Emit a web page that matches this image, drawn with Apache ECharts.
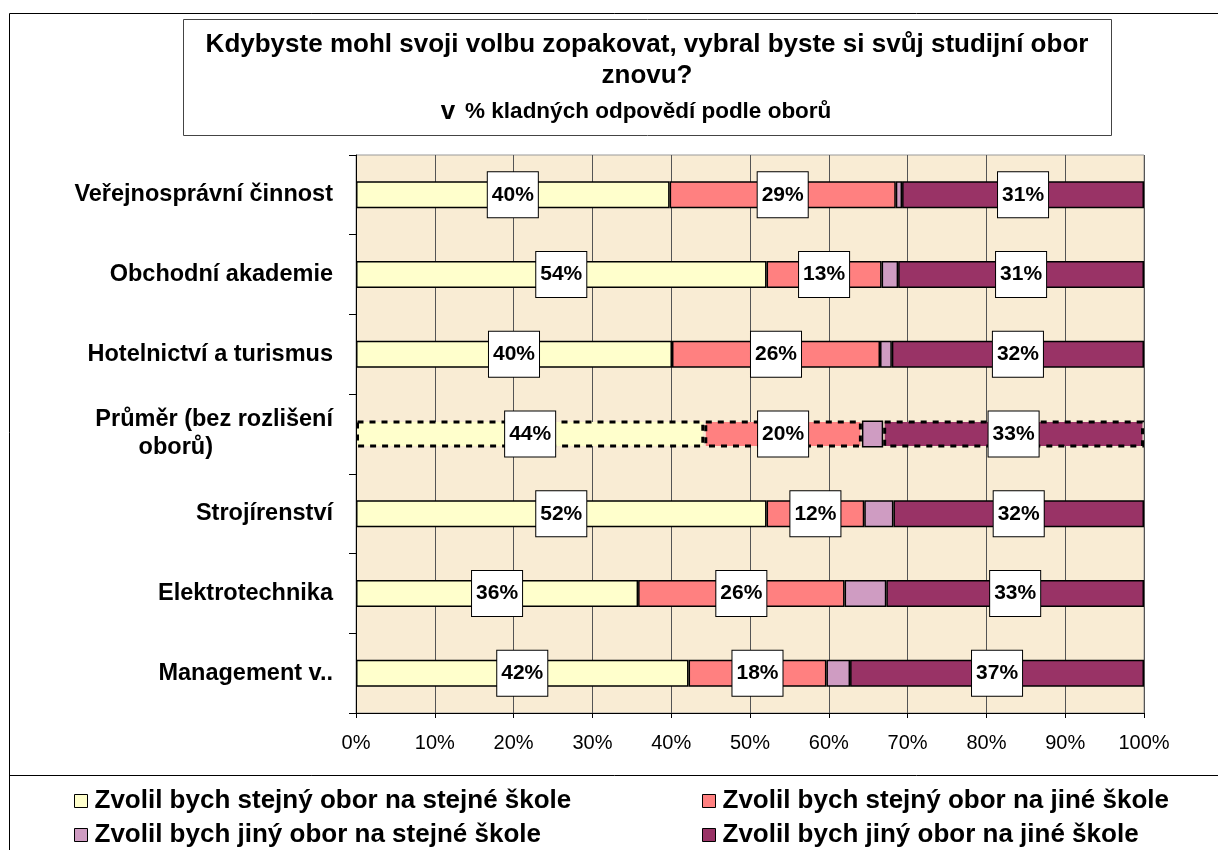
<!DOCTYPE html>
<html><head><meta charset="utf-8">
<script src="https://cdn.jsdelivr.net/npm/echarts@6/dist/echarts.min.js"></script>
<style>html,body{margin:0;padding:0;background:#fff}#c{width:1218px;height:850px}</style>
</head><body><div id="c"></div>
<script>
const categories = ['Veřejnosprávní činnost', 'Obchodní akademie', 'Hotelnictví a turismus', 'Průměr (bez rozlišení\noborů)', 'Strojírenství', 'Elektrotechnika', 'Management v..'];
const seriesNames = ['Zvolil bych stejný obor na stejné škole', 'Zvolil bych stejný obor na jiné škole', 'Zvolil bych jiný obor na stejné škole', 'Zvolil bych jiný obor na jiné škole'];
const sameFieldSameSchool = [39.8, 52.1, 40.1, 44.2, 52.1, 35.8, 42.2];
const sameFieldOtherSchool = [28.7, 14.6, 26.4, 20.0, 12.4, 26.2, 17.5];
const otherFieldSameSchool = [0.8, 2.1, 1.5, 2.7, 3.7, 5.3, 3.0];
const otherFieldOtherSchool = [30.7, 31.2, 32.0, 33.1, 31.8, 32.7, 37.3];
const labelSameSame = ['40%', '54%', '40%', '44%', '52%', '36%', '42%'];
const labelSameOther = ['29%', '13%', '26%', '20%', '12%', '26%', '18%'];
const labelOtherOther = ['31%', '31%', '32%', '33%', '32%', '33%', '37%'];
const xTickValues = [0, 10, 20, 30, 40, 50, 60, 70, 80, 90, 100];
const averageIndex = 3;

const FONT = '"Liberation Sans", Arial, sans-serif';
const colors = ['#FFFFCC', '#FF8080', '#CF9CC2', '#993366'];
const valueSets = [sameFieldSameSchool, sameFieldOtherSchool, otherFieldSameSchool, otherFieldOtherSchool];
const labelSets = [labelSameSame, labelSameOther, null, labelOtherOther];

const chart = echarts.init(document.getElementById('c'), null, {renderer: 'canvas'});

const series = valueSets.map((vals, si) => ({
  name: seriesNames[si],
  type: 'bar',
  stack: 'total',
  barWidth: 27,
  itemStyle: {color: colors[si], borderColor: '#000', borderWidth: 1.5},
  label: labelSets[si] ? {
    show: true,
    position: 'inside',
    formatter: p => labelSets[si][p.dataIndex],
    backgroundColor: '#fff',
    borderColor: '#000',
    borderWidth: 1,
    padding: [12, 4],
    color: '#000',
    fontSize: 21,
    fontWeight: 'bold',
    fontFamily: FONT
  } : {show: false},
  data: vals.map((v, i) => (i === averageIndex && si !== 2) ? {
    value: v,
    itemStyle: {borderType: [6, 6], borderWidth: 3, borderColor: '#000'}
  } : v)
}));

const legendCommon = {
  orient: 'vertical', top: 788, padding: 0, itemWidth: 13, itemHeight: 13, itemGap: 8,
  icon: 'rect', itemStyle: {borderColor: '#000', borderWidth: 1},
  textStyle: {fontSize: 26, fontWeight: 'bold', color: '#000', fontFamily: FONT, lineHeight: 26, padding: [0, 0, 0, 2]}
};

const option = {
  animation: false,
  backgroundColor: '#fff',
  grid: {left: 356, right: 74, top: 155, bottom: 137, show: true, backgroundColor: '#F9ECD4', borderColor: '#999', borderWidth: 1},
  xAxis: {
    type: 'value', min: xTickValues[0], max: xTickValues[xTickValues.length - 1], interval: 10,
    axisLine: {show: true, lineStyle: {color: '#000', width: 1}},
    axisTick: {show: true, length: 5, lineStyle: {color: '#000'}},
    splitLine: {show: true, lineStyle: {color: '#555', width: 1}},
    axisLabel: {formatter: '{value}%', fontSize: 20, color: '#000', margin: 20, fontFamily: FONT}
  },
  yAxis: {
    type: 'category', data: categories, inverse: true,
    axisLine: {show: true, lineStyle: {color: '#000', width: 1}},
    axisTick: {show: true, length: 7, lineStyle: {color: '#000'}},
    axisLabel: {
      fontSize: 23.5, fontWeight: 'bold', color: '#000', margin: 23, fontFamily: FONT, lineHeight: 28,
      formatter: v => {
        const parts = v.split('\n');
        if (parts.length === 1) return v;
        return '{a|' + parts[0] + '}\n{b|' + parts[1] + '}';
      },
      rich: {
        a: {fontSize: 23.5, fontWeight: 'bold', color: '#000', fontFamily: FONT, lineHeight: 28},
        b: {fontSize: 23.5, fontWeight: 'bold', color: '#000', fontFamily: FONT, lineHeight: 28, padding: [0, 120, 0, 0]}
      }
    }
  },
  legend: [
    Object.assign({}, legendCommon, {data: [seriesNames[0], seriesNames[2]], left: 74}),
    Object.assign({}, legendCommon, {data: [seriesNames[1], seriesNames[3]], left: 702})
  ],
  graphic: [
    {type: 'rect', z: -10, shape: {x: 9.5, y: 13.5, width: 1300, height: 1000}, style: {fill: 'none', stroke: '#000', lineWidth: 1}},
    {type: 'line', z: -10, shape: {x1: 9.5, y1: 775.5, x2: 1300, y2: 775.5}, style: {stroke: '#000', lineWidth: 1}},
    {type: 'rect', shape: {x: 183.5, y: 19.5, width: 928, height: 116}, style: {fill: '#fff', stroke: '#444', lineWidth: 1}},
    {type: 'text', x: 647, y: 45, style: {text: 'Kdybyste mohl svoji volbu zopakovat, vybral byste si svůj studijní obor', font: 'bold 26px ' + FONT, fill: '#000', align: 'center', verticalAlign: 'middle'}},
    {type: 'text', x: 647, y: 76, style: {text: 'znovu?', font: 'bold 26px ' + FONT, fill: '#000', align: 'center', verticalAlign: 'middle'}},
    {type: 'text', x: 636, y: 112, style: {
      text: '{v|v}{p|% kladných odpovědí podle oborů}', align: 'center', verticalAlign: 'middle',
      rich: {
        v: {font: 'bold 26px ' + FONT, fill: '#000', padding: [0, 10, 0, 0]},
        p: {font: 'bold 22.5px ' + FONT, fill: '#000'}
      }
    }}
  ],
  series: series
};
chart.setOption(option);
</script>
</body></html>
